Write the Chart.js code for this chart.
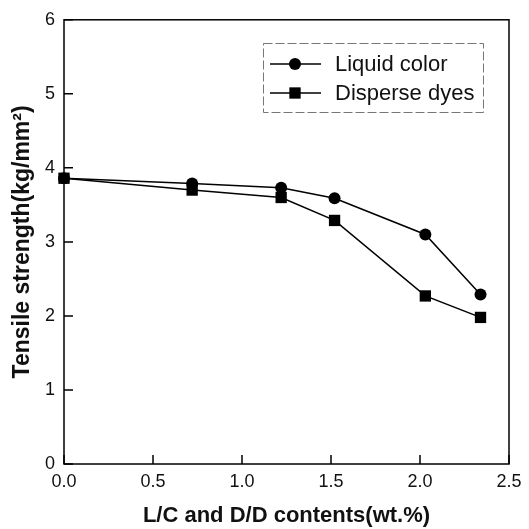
<!DOCTYPE html>
<html>
<head>
<meta charset="utf-8">
<script src="https://cdn.jsdelivr.net/npm/chart.js@4.4.1/dist/chart.umd.min.js"></script>
<style>
  html, body { margin:0; padding:0; background:#fff }
</style>
</head>
<body>
<canvas id="c" width="529" height="529"></canvas>
<script>
// values
const contents = [0, 0.72, 1.22, 1.52, 2.03, 2.34]
const liquidColor = [3.86, 3.79, 3.73, 3.59, 3.10, 2.29]
const disperseDyes = [3.86, 3.70, 3.60, 3.29, 2.27, 1.98]
const seriesNames = ['Liquid color', 'Disperse dyes']
const xTicks = [0, 0.5, 1.0, 1.5, 2.0, 2.5]
const yTicks = [0, 1, 2, 3, 4, 5, 6]

const FONT = "'Liberation Sans', Arial, sans-serif"
const pts = ys => ys.map((y,i) => ({x: contents[i], y}))

// axis box + inward tick marks
const frame = {
  id: 'frame',
  afterDatasetsDraw(chart){
    const {ctx, chartArea:a, scales:{x, y}} = chart
    ctx.save()
    ctx.strokeStyle = '#000'
    ctx.lineWidth = 1.5
    ctx.beginPath()
    x.ticks.forEach(t => { const px = x.getPixelForValue(t.value); ctx.moveTo(px, a.bottom); ctx.lineTo(px, a.bottom-9) })
    y.ticks.forEach(t => { const py = y.getPixelForValue(t.value); ctx.moveTo(a.left, py); ctx.lineTo(a.left+9, py) })
    ctx.stroke()
    ctx.strokeRect(a.left, a.top, a.right-a.left, a.bottom-a.top)
    ctx.restore()
  }
}

// legend box inside the plot
const boxLegend = {
  id: 'boxLegend',
  afterDraw(chart){
    const ctx = chart.ctx
    ctx.save()
    ctx.setLineDash([9,3])
    ctx.strokeStyle = '#777'
    ctx.lineWidth = 1
    ctx.strokeRect(263.5, 43.5, 220, 69)
    ctx.setLineDash([])
    chart.data.datasets.forEach((ds, i) => {
      const yy = 64 + i*29
      ctx.strokeStyle = ds.borderColor
      ctx.lineWidth = ds.borderWidth
      ctx.beginPath(); ctx.moveTo(270, yy); ctx.lineTo(321, yy); ctx.stroke()
      ctx.fillStyle = ds.pointBackgroundColor
      if(ds.pointStyle === 'rect'){
        const s = ds.pointRadius*Math.SQRT1_2
        ctx.fillRect(295-s, yy-s, 2*s, 2*s)
      } else {
        ctx.beginPath(); ctx.arc(295, yy, ds.pointRadius, 0, Math.PI*2); ctx.fill()
      }
      ctx.fillStyle = '#111'
      ctx.font = `22px ${FONT}`
      ctx.textBaseline = 'middle'
      ctx.fillText(ds.label, 335, yy+1)
    })
    ctx.restore()
  }
}

new Chart(document.getElementById('c'), {
  type: 'line',
  data: {
    datasets: [
      {label: seriesNames[0], data: pts(liquidColor), borderColor:'#000', borderWidth:1.5,
       pointStyle:'circle', pointRadius:6, pointBackgroundColor:'#000', pointBorderWidth:0, clip:false},
      {label: seriesNames[1], data: pts(disperseDyes), borderColor:'#000', borderWidth:1.5,
       pointStyle:'rect', pointRadius:8, pointBackgroundColor:'#000', pointBorderWidth:0, clip:false}
    ]
  },
  options: {
    responsive: false,
    animation: false,
    layout: { padding: {top:17, right:20, left:0, bottom:0} },
    plugins: { legend:{display:false}, tooltip:{enabled:false} },
    scales: {
      x: {
        type: 'linear', min: 0, max: 2.5,
        afterBuildTicks: s => { s.ticks = xTicks.map(v => ({value:v})) },
        afterFit: s => { s.height = 65 },
        grid: { display:false, drawTicks:false }, border: { display:false },
        ticks: { padding:7, color:'#111', font:{family:FONT, size:18}, maxRotation:0, callback: v => Number(v).toFixed(1) },
        title: { display:true, text:'L/C and D/D contents(wt.%)', color:'#111', font:{family:FONT, size:22, weight:'bold'}, padding:{top:0, bottom:0} }
      },
      y: {
        type: 'linear', min: 0, max: 6,
        afterBuildTicks: s => { s.ticks = yTicks.map(v => ({value:v})) },
        afterFit: s => { s.width = 64 },
        grid: { display:false, drawTicks:false }, border: { display:false },
        ticks: { padding:9, color:'#111', font:{family:FONT, size:18} },
        title: { display:true, text:'Tensile strength(kg/mm²)', color:'#111', font:{family:FONT, size:23, weight:'bold'}, padding:{top:9, bottom:0} }
      }
    }
  },
  plugins: [frame, boxLegend]
})
</script>
</body>
</html>
